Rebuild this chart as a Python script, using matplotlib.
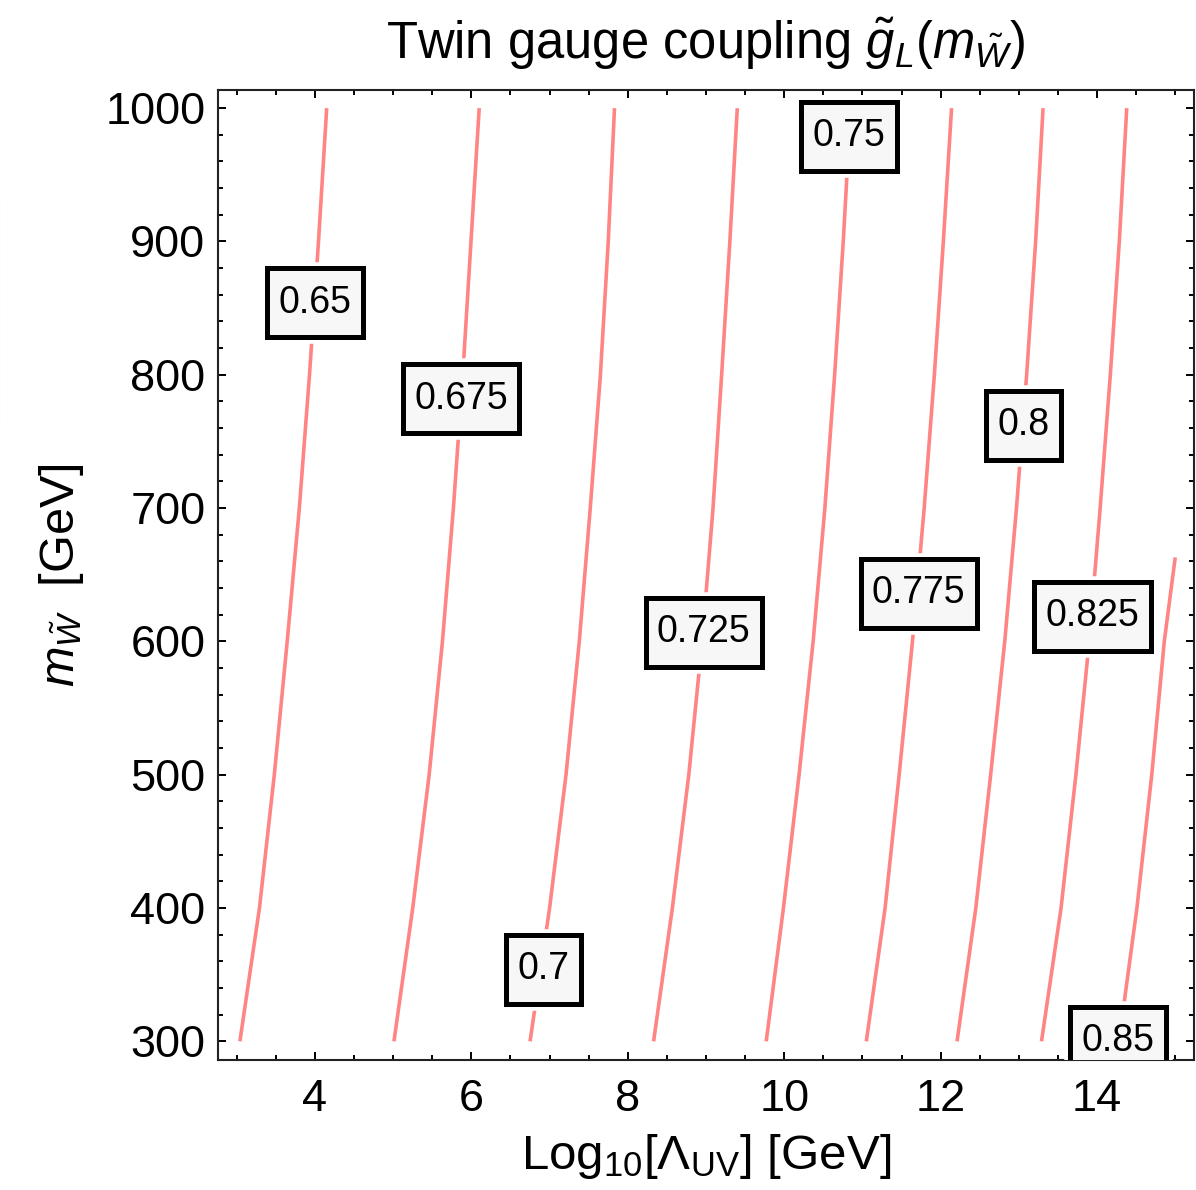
import matplotlib
matplotlib.use('Agg')
import matplotlib.pyplot as plt
import numpy as np
from matplotlib.ticker import MultipleLocator
from matplotlib.patches import Rectangle
from matplotlib.path import Path

plt.rcParams['font.family'] = ['Liberation Sans', 'DejaVu Sans']
plt.rcParams['mathtext.fontset'] = 'custom'
plt.rcParams['mathtext.rm'] = 'Liberation Sans'
plt.rcParams['mathtext.it'] = 'Liberation Sans:italic'
plt.rcParams['mathtext.bf'] = 'Liberation Sans:bold'

# ---- data ----
mass_grid = [300, 400, 500, 600, 700, 800, 900, 1000]          # m_W~ [GeV]
x_0650 = [3.04, 3.29, 3.48, 3.645, 3.80, 3.93, 4.045, 4.15]    # Log10 Lambda_UV
x_0675 = [5.01, 5.25, 5.46, 5.63, 5.77, 5.89, 5.995, 6.10]
x_0700 = [6.75, 7.00, 7.21, 7.38, 7.52, 7.65, 7.75, 7.83]
x_0725 = [8.33, 8.57, 8.78, 8.95, 9.09, 9.20, 9.305, 9.40]
x_0750 = [9.77, 9.99, 10.19, 10.37, 10.52, 10.645, 10.755, 10.85]
x_0775 = [11.05, 11.29, 11.47, 11.64, 11.79, 11.92, 12.035, 12.14]
x_0800 = [12.21, 12.45, 12.64, 12.82, 12.97, 13.10, 13.215, 13.31]
x_0825 = [13.29, 13.54, 13.73, 13.90, 14.04, 14.17, 14.285, 14.38]
mass_0850 = [300, 400, 500, 600, 663]
x_0850 = [14.28, 14.51, 14.70, 14.86, 15.00]

level_names = ["0.65", "0.675", "0.7", "0.725", "0.75", "0.775", "0.8", "0.825", "0.85"]
label_x = [4.00, 5.87, 6.92, 8.97, 10.83, 11.72, 13.06, 13.94, 14.27]
label_y = [854, 782, 354, 607, 979, 636, 762, 619, 300]

x_ticks = [4, 6, 8, 10, 12, 14]
y_ticks = [300, 400, 500, 600, 700, 800, 900, 1000]

# ---- figure ----
W, H = 1196, 1190
fig = plt.figure(figsize=(W / 100, H / 100), dpi=100)
ax = fig.add_axes([218 / W, 1 - 1060 / H, (1194 - 218) / W, (1060 - 89.5) / H])

line_color = '#ff8484'
curves = [(x_0650, mass_grid), (x_0675, mass_grid), (x_0700, mass_grid),
          (x_0725, mass_grid), (x_0750, mass_grid), (x_0775, mass_grid),
          (x_0800, mass_grid), (x_0825, mass_grid), (x_0850, mass_0850)]
for xs, ys in curves:
    ax.plot(xs, ys, color=line_color, lw=2.6, solid_capstyle='butt',
            solid_joinstyle='round', zorder=2)


def label_box(x0, y0, width, height, mutation_size):
    padx = 0.30 * mutation_size
    pady = 0.44 * mutation_size
    xa, xb = x0 - padx, x0 + width + padx
    ya, yb = y0 - pady, y0 + height + pady
    return Path([(xa, ya), (xb, ya), (xb, yb), (xa, yb), (xa, ya)],
                [Path.MOVETO, Path.LINETO, Path.LINETO, Path.LINETO, Path.CLOSEPOLY])


for name, lx, ly in zip(level_names, label_x, label_y):
    # white halo that leaves a small gap between the curve and the frame
    ax.text(lx, ly, name, fontsize=27, ha='center', va='center', zorder=3,
            clip_on=True, color='none',
            bbox=dict(boxstyle=label_box, fc='white', ec='white', lw=9))
    ax.text(lx, ly, name, fontsize=27, ha='center', va='center', zorder=4,
            clip_on=True,
            bbox=dict(boxstyle=label_box, fc='#f7f7f7', ec='black', lw=3.6))

ax.set_xlim(2.76, 15.24)
ax.set_ylim(286, 1014)
ax.set_xticks(x_ticks)
ax.set_yticks(y_ticks)
ax.xaxis.set_minor_locator(MultipleLocator(0.5))
ax.yaxis.set_minor_locator(MultipleLocator(20))
ax.tick_params(which='both', direction='in', top=True, right=True, width=1.4, color='black')
ax.tick_params(which='major', length=6, labelsize=32.5)
ax.tick_params(which='minor', length=3.5)
ax.tick_params(axis='y', pad=9)
ax.tick_params(axis='x', pad=14)
for s in ax.spines.values():
    s.set_linewidth(1.5)
    s.set_color('#222222')

ax.set_title(r'Twin gauge coupling $\tilde{g}_L(m_{\tilde{W}})$', fontsize=36.5, pad=22)
ax.set_xlabel(r'Log$_{10}$[$\Lambda_{\rm UV}$] [GeV]', fontsize=35.5, labelpad=8)
ax.set_ylabel(r'$m_{\tilde{W}}$  [GeV]', fontsize=35, labelpad=14)

# faint frame remnant at the left edge of the image
fig.patches.append(Rectangle((-0.01, 1 - 427 / H), 0.0095, 227 / H, transform=fig.transFigure,
                             fill=False, ec='#e6e6e6', lw=1.5))

fig.savefig('out.png', dpi=100)
